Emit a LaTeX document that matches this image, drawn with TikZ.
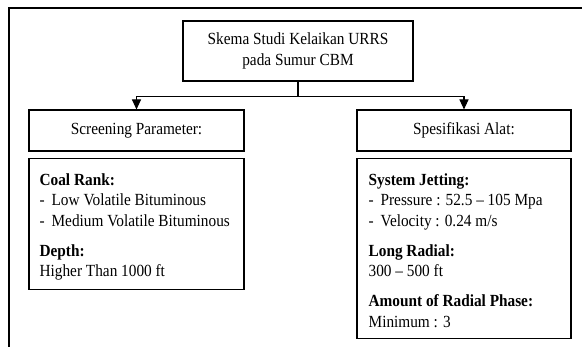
\documentclass[tikz,border=0pt]{standalone}
\usepackage{fontspec}
\setmainfont{Liberation Serif}[FakeStretch=0.9]
\usetikzlibrary{positioning,arrows.meta}

% dash bullet used in the lists
\newcommand{\dashitem}[1]{\makebox[12pt][l]{-}#1}

\begin{document}
\begin{tikzpicture}[
    x=1pt, y=1pt,
    node distance=6pt,
    font=\fontsize{17}{20.5}\selectfont,
    titlebox/.style={rectangle, draw=black, line width=1.1pt, minimum width=230pt, minimum height=60pt, align=center},
    header/.style={rectangle, draw=black, line width=1.1pt, minimum width=215pt, minimum height=41pt, align=center},
    listbox/.style={rectangle, draw=black, line width=1.1pt, minimum width=215pt, inner sep=0pt},
    listtext/.style={anchor=north west, inner sep=0pt, align=left},
    arrow/.style={-{Triangle[length=10pt,width=9pt]}, line width=1.1pt, black}
]
\useasboundingbox (0,0) rectangle (582,-347);

% outer frame, runs off the page on the right and bottom
\draw[line width=1.3pt] (9,-360) -- (9,-8) -- (600,-8);

\node[titlebox] (study) at (298,-51) {Skema Studi Kelaikan URRS\\pada Sumur CBM};
\node[header] (screen) at (136.5,-130.5) {Screening Parameter:};
\node[header, minimum width=214pt] (spec) at (464,-130.5) {Spesifikasi Alat:};

\node[listbox, minimum height=131pt, below=of screen] (coalbox) {};
\node[listbox, minimum width=214pt, minimum height=180pt, below=of spec] (toolbox) {};

\node[listtext] (coaltext) at ([shift={(11,-15.5)}]coalbox.north west) {%
    \textbf{Coal Rank:}\\
    \dashitem{Low Volatile Bituminous}\\
    \dashitem{Medium Volatile Bituminous}\\[9.5pt]
    \textbf{Depth:}\\
    Higher Than 1000 ft};
\node[listtext] (tooltext) at ([shift={(12,-15.5)}]toolbox.north west) {%
    \textbf{System Jetting:}\\
    \dashitem{Pressure : 52.5 – 105 Mpa}\\
    \dashitem{Velocity : 0.24 m/s}\\[9.5pt]
    \textbf{Long Radial:}\\
    300 – 500 ft\\[9.5pt]
    \textbf{Amount of Radial Phase:}\\
    Minimum : 3};

% split from the title down to both columns
\coordinate (split) at ([yshift=-15pt]study.south);
\draw[line width=1.1pt] (study.south) -- (split);
\draw[arrow] (split) -| (screen.north);
\draw[arrow] (split) -| (spec.north);
\end{tikzpicture}
\end{document}
